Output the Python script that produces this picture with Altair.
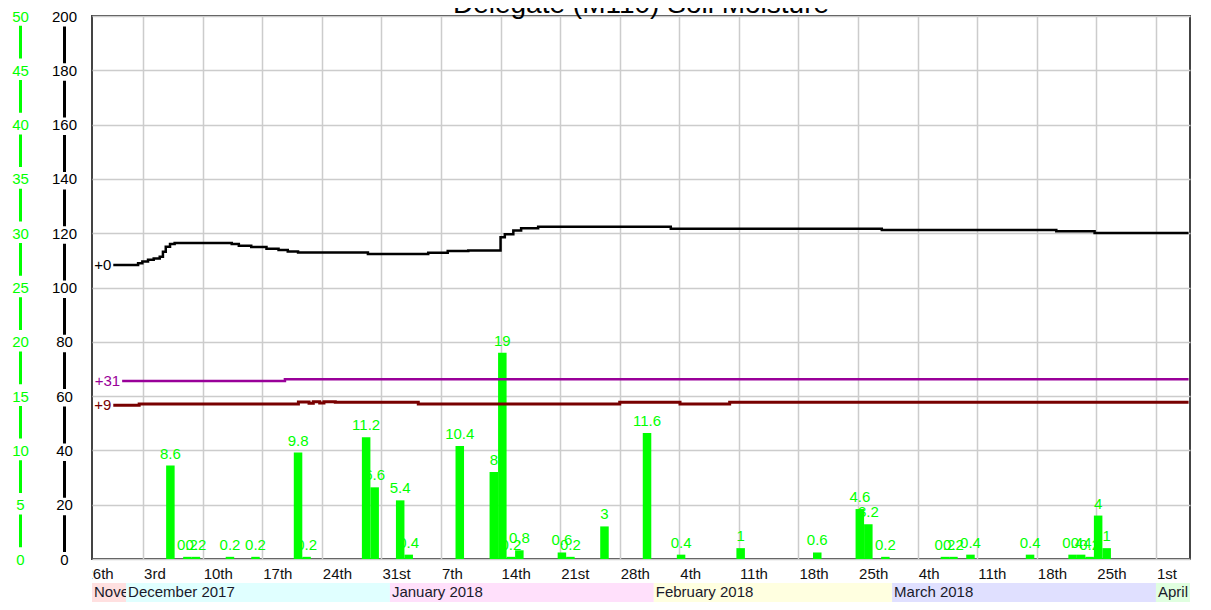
import altair as alt
import pandas as pd

# ------------------------------------------------------------------ data
TITLE = "Delegate (M110) Soil Moisture"

# daily rainfall (mm); each period starts on the given day
RAIN_DATES = [
    "2017-12-05", "2017-12-07", "2017-12-08", "2017-12-12", "2017-12-15",
    "2017-12-20", "2017-12-21", "2017-12-28", "2017-12-29", "2018-01-01",
    "2018-01-02", "2018-01-08", "2018-01-12", "2018-01-13", "2018-01-14",
    "2018-01-15", "2018-01-20", "2018-01-21", "2018-01-25", "2018-01-30",
    "2018-02-03", "2018-02-10", "2018-02-19", "2018-02-24", "2018-02-25",
    "2018-02-27", "2018-03-06", "2018-03-07", "2018-03-09", "2018-03-16",
    "2018-03-21", "2018-03-22", "2018-03-23", "2018-03-24", "2018-03-25",
]
RAIN_MM = [
    8.6, 0.2, 0.2, 0.2, 0.2,
    9.8, 0.2, 11.2, 6.6, 5.4,
    0.4, 10.4, 8, 19, 0.2,
    0.8, 0.6, 0.2, 3, 11.6,
    0.4, 1, 0.6, 4.6, 3.2,
    0.2, 0.2, 0.2, 0.4, 0.4,
    0.4, 0.4, 0.2, 4, 1,
]
RAIN_PERIOD_START_HOUR = 17

# soil moisture sensors (labelled by offset)
SOIL0_TIMES = [
    "2017-11-29 12:00", "2017-12-02 10:00", "2017-12-02 22:00", "2017-12-03 14:00",
    "2017-12-04 06:00", "2017-12-04 23:00", "2017-12-05 08:00", "2017-12-05 16:00",
    "2017-12-06 04:00", "2017-12-06 17:00", "2017-12-13 10:00", "2017-12-14 06:00",
    "2017-12-15 17:00", "2017-12-17 12:00", "2017-12-18 22:00", "2017-12-20 00:00",
    "2017-12-21 05:00", "2017-12-29 10:00", "2018-01-05 12:00", "2018-01-07 19:00",
    "2018-01-10 05:00", "2018-01-14 00:00", "2018-01-14 12:00", "2018-01-15 12:00",
    "2018-01-16 10:00", "2018-01-18 10:00", "2018-02-03 00:00", "2018-02-27 19:00",
    "2018-03-20 07:00", "2018-03-24 19:00", "2018-04-04 20:00",
]
SOIL0_VALUES = [
    108.3, 108.9, 109.6, 110.2,
    110.7, 111.3, 113.2, 115.0,
    116.0, 116.4, 116.0, 115.4,
    114.9, 114.3, 113.8, 113.3,
    112.9, 112.3, 112.8, 113.4,
    113.6, 118.5, 119.6, 121.0,
    121.8, 122.4, 121.6, 121.2,
    120.7, 120.1, 120.1,
]
SOIL31_TIMES = ["2017-11-30 13:00", "2017-12-19 16:00", "2018-04-04 20:00"]
SOIL31_VALUES = [65.6, 66.2, 66.2]
SOIL9_TIMES = [
    "2017-11-29 12:00", "2017-12-02 13:00", "2017-12-21 06:00", "2017-12-22 12:00",
    "2017-12-23 00:00", "2017-12-23 18:00", "2017-12-24 06:00", "2017-12-25 14:00",
    "2018-01-04 08:00", "2018-01-28 00:00", "2018-02-04 02:00", "2018-02-09 22:00",
    "2018-04-04 20:00",
]
SOIL9_VALUES = [
    56.6, 57.1, 57.8, 57.4,
    57.9, 57.5, 57.9, 57.7,
    57.1, 57.7, 57.1, 57.7,
    57.7,
]
SERIES_NAMES = ["+0", "+31", "+9"]

# axes
X_DOMAIN = [(2017, 11, 27), (2018, 4, 5)]
TICK_DATES = [
    "2017-11-26", "2017-12-03", "2017-12-10", "2017-12-17", "2017-12-24",
    "2017-12-31", "2018-01-07", "2018-01-14", "2018-01-21", "2018-01-28",
    "2018-02-04", "2018-02-11", "2018-02-18", "2018-02-25", "2018-03-04",
    "2018-03-11", "2018-03-18", "2018-03-25", "2018-04-01",
]
TICK_LABELS = [
    "26th", "3rd", "10th", "17th", "24th",
    "31st", "7th", "14th", "21st", "28th",
    "4th", "11th", "18th", "25th", "4th",
    "11th", "18th", "25th", "1st",
]
RAIN_TICKS = [0, 5, 10, 15, 20, 25, 30, 35, 40, 45, 50]
SOIL_TICKS = [0, 20, 40, 60, 80, 100, 120, 140, 160, 180, 200]

MONTH_NAMES = ["November 2017", "December 2017", "January 2018",
               "February 2018", "March 2018", "April 2018"]
MONTH_STARTS = ["2017-11-01", "2017-12-01", "2018-01-01",
                "2018-02-01", "2018-03-01", "2018-04-01"]
MONTH_ENDS = ["2017-12-01", "2018-01-01", "2018-02-01",
              "2018-03-01", "2018-04-01", "2018-05-01"]

# ------------------------------------------------------------------ styles
FONT = "Liberation Sans"
GREEN = "#00ff00"
SERIES_COLORS = ["#000000", "#990099", "#780000"]
SERIES_WIDTHS = [2.5, 2.5, 3]
MONTH_COLORS = ["#ffe0e0", "#e0ffff", "#ffe0fb", "#ffffe0", "#e0e0ff", "#e0ffe0"]
GRID = "#cccccc"

# ------------------------------------------------------------------ frames
domain_start = pd.Timestamp(*X_DOMAIN[0])

rain_df = pd.DataFrame({"day": pd.to_datetime(RAIN_DATES), "rain": RAIN_MM})
rain_df["start"] = rain_df["day"] + pd.Timedelta(hours=RAIN_PERIOD_START_HOUR)
rain_df["end"] = rain_df["start"] + pd.Timedelta(days=1)
rain_df["mid"] = rain_df["start"] + pd.Timedelta(hours=12)
rain_df["label"] = [f"{v:g}" for v in RAIN_MM]
rain_df = rain_df.drop(columns=["day"])

series_frames = []
for name, times, vals in zip(SERIES_NAMES,
                             [SOIL0_TIMES, SOIL31_TIMES, SOIL9_TIMES],
                             [SOIL0_VALUES, SOIL31_VALUES, SOIL9_VALUES]):
    series_frames.append(pd.DataFrame({"time": pd.to_datetime(times),
                                       "value": vals, "series": name}))
first_points = pd.concat([f.iloc[[0]] for f in series_frames], ignore_index=True)

tick_df = pd.DataFrame({"date": pd.to_datetime(TICK_DATES), "label": TICK_LABELS})

month_df = pd.DataFrame({"name": MONTH_NAMES,
                         "start": pd.to_datetime(MONTH_STARTS),
                         "end": pd.to_datetime(MONTH_ENDS)})
month_df["label_x"] = month_df["start"].where(month_df["start"] > domain_start, domain_start)

# ------------------------------------------------------------------ scales / axes
XSCALE = alt.Scale(domain=[alt.DateTime(year=y, month=m, date=d) for (y, m, d) in X_DOMAIN])
grid_values = [alt.DateTime(year=t.year, month=t.month, date=t.day)
               for t in pd.to_datetime(TICK_DATES) if t >= domain_start]
XAXIS = alt.Axis(values=grid_values, grid=True, gridColor=GRID, gridWidth=1.5,
                 labels=False, ticks=False, domain=False, title=None)

rain_axis = alt.Axis(orient="left", offset=72, values=RAIN_TICKS, grid=False,
                     ticks=False, tickSize=0, labelPadding=0, labelAlign="center",
                     labelBaseline="middle", labelColor=GREEN, labelFont=FONT,
                     labelFontSize=15, domain=True, domainColor=GREEN, domainWidth=3,
                     domainDash=[32.7, 21.6], domainDashOffset=42, title=None)
soil_axis = alt.Axis(orient="left", offset=28, values=SOIL_TICKS, grid=True,
                     gridColor=GRID, gridWidth=1.5,
                     ticks=False, tickSize=0, labelPadding=0, labelAlign="center",
                     labelBaseline="middle", labelColor="#000000", labelFont=FONT,
                     labelFontSize=15, domain=True, domainColor="#000000", domainWidth=3,
                     domainDash=[36.8, 17.5], domainDashOffset=46.8, title=None)

RAIN_SCALE = alt.Scale(domain=[0, 50], nice=False, zero=True)
RAIN_Y = alt.Y("rain:Q", scale=RAIN_SCALE, axis=rain_axis)
SOIL_Y = alt.Y("value:Q", scale=alt.Scale(domain=[0, 200], nice=False, zero=True), axis=soil_axis)

# ------------------------------------------------------------------ main panel
rain_text = alt.Chart(rain_df).mark_text(
    color=GREEN, font=FONT, fontSize=15, align="center", baseline="alphabetic", dy=-7
).encode(x=alt.X("mid:T", scale=XSCALE, axis=XAXIS), y=RAIN_Y, text="label:N")

rain_bars = alt.Chart(rain_df).mark_rect(color=GREEN).encode(
    x=alt.X("start:T", scale=XSCALE, axis=XAXIS), x2="end:T",
    y=RAIN_Y, y2=alt.Y2(datum=0))

rain_layer = alt.layer(rain_text, rain_bars)

soil_lines = []
for f, col, w in zip(series_frames, SERIES_COLORS, SERIES_WIDTHS):
    soil_lines.append(
        alt.Chart(f).mark_line(color=col, strokeWidth=w, interpolate="step-after").encode(
            x=alt.X("time:T", scale=XSCALE, axis=XAXIS), y=SOIL_Y)
    )
soil_labels = alt.Chart(first_points).mark_text(
    align="right", baseline="middle", dx=-2, font=FONT, fontSize=15
).encode(
    x=alt.X("time:T", scale=XSCALE, axis=XAXIS), y=SOIL_Y, text="series:N",
    color=alt.Color("series:N", scale=alt.Scale(domain=SERIES_NAMES, range=SERIES_COLORS),
                    legend=None),
)
soil_layer = alt.layer(*soil_lines, soil_labels)

main = alt.layer(rain_layer, soil_layer).resolve_scale(y="independent").properties(
    width=1098, height=543,
    title=alt.TitleParams(text=TITLE, fontSize=28, font=FONT, fontWeight="normal",
                          color="#000000", anchor="middle", frame="group",
                          baseline="alphabetic", offset=0, dy=32),
    view=alt.ViewBackground(stroke="#444444", strokeWidth=2),
)

# ------------------------------------------------------------------ date strip
XS = alt.X("date:T", scale=XSCALE, axis=None)
tick_text = alt.Chart(tick_df).mark_text(
    align="left", baseline="alphabetic", dx=1, font=FONT, fontSize=15,
    color="#111111", clip=True
).encode(x=XS, y=alt.value(20), text="label:N")

strip_layers = [tick_text]
for name, col in zip(MONTH_NAMES, MONTH_COLORS):
    strip_layers.append(
        alt.Chart(month_df).transform_filter(alt.datum.name == name)
        .mark_rect(color=col, clip=True)
        .encode(x=alt.X("start:T", scale=XSCALE, axis=None), x2="end:T",
                y=alt.value(24), y2=alt.value(43))
    )
    strip_layers.append(
        alt.Chart(month_df).transform_filter(alt.datum.name == name)
        .mark_text(align="left", baseline="alphabetic", dx=2, font=FONT, fontSize=15,
                   color="#1a1a2a", clip=True)
        .encode(x=alt.X("label_x:T", scale=XSCALE, axis=None), y=alt.value(38),
                text="name:N")
    )
strip = alt.layer(*strip_layers).properties(
    width=1098, height=43, view=alt.ViewBackground(stroke="transparent"))

chart = alt.vconcat(main, strip, spacing=0, bounds="flush").resolve_scale(
    x="independent"
).properties(
    padding={"left": 2, "top": -18, "right": 5, "bottom": 0},
)

chart.save("out.html", embed_options={"renderer": "svg", "actions": False})
